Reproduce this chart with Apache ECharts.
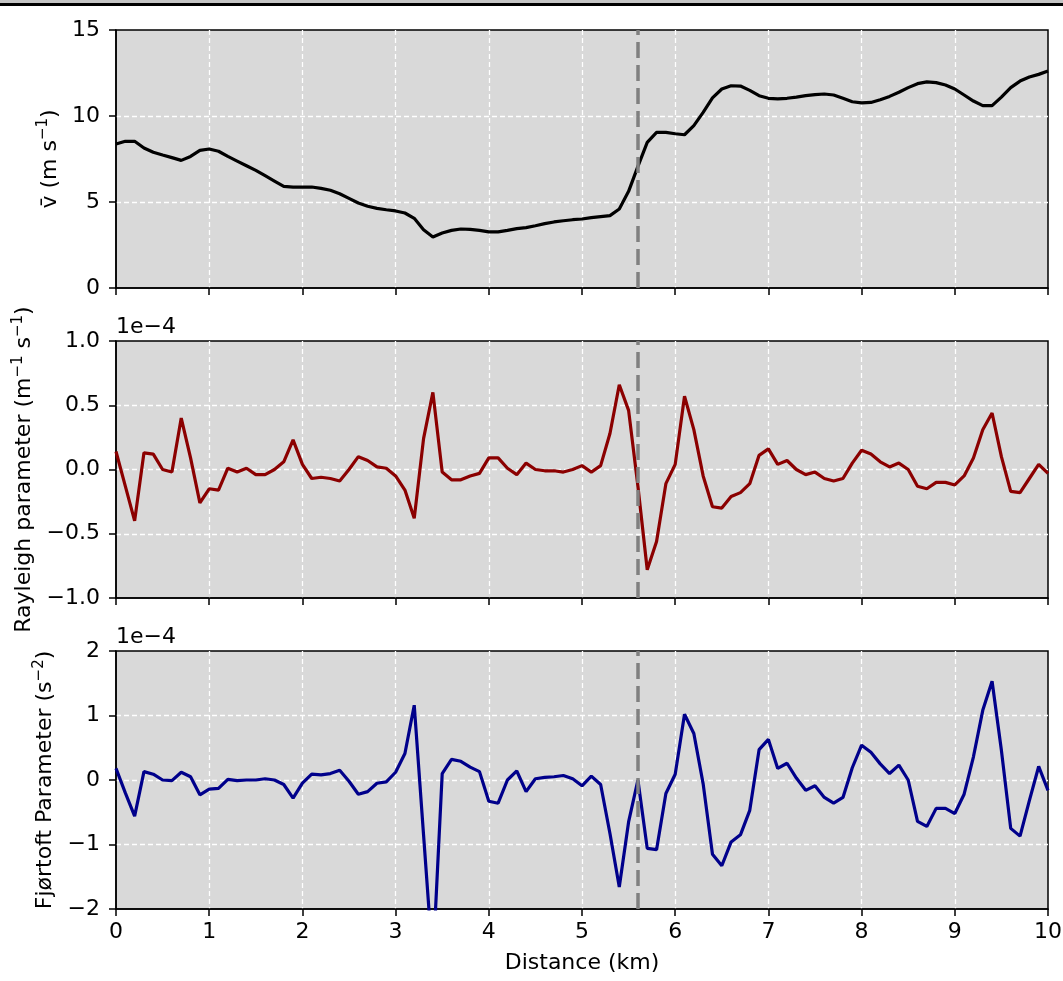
<!DOCTYPE html>
<html>
<head>
<meta charset="utf-8">
<script src="https://cdn.jsdelivr.net/npm/echarts@6/dist/echarts.min.js"></script>
<style>
  html, body { margin: 0; padding: 0; background: #fff; }
  #chart { width: 1063px; height: 981px; }
</style>
</head>
<body>
<div id="chart"></div>
<script>
// distance along the transect (km)
const distance = [
    0.0, 0.1, 0.2, 0.3, 0.4, 0.5, 0.6, 0.7, 0.8, 0.9,
    1.0, 1.1, 1.2, 1.3, 1.4, 1.5, 1.6, 1.7, 1.8, 1.9,
    2.0, 2.1, 2.2, 2.3, 2.4, 2.5, 2.6, 2.7, 2.8, 2.9,
    3.0, 3.1, 3.2, 3.3, 3.4, 3.5, 3.6, 3.7, 3.8, 3.9,
    4.0, 4.1, 4.2, 4.3, 4.4, 4.5, 4.6, 4.7, 4.8, 4.9,
    5.0, 5.1, 5.2, 5.3, 5.4, 5.5, 5.6, 5.7, 5.8, 5.9,
    6.0, 6.1, 6.2, 6.3, 6.4, 6.5, 6.6, 6.7, 6.8, 6.9,
    7.0, 7.1, 7.2, 7.3, 7.4, 7.5, 7.6, 7.7, 7.8, 7.9,
    8.0, 8.1, 8.2, 8.3, 8.4, 8.5, 8.6, 8.7, 8.8, 8.9,
    9.0, 9.1, 9.2, 9.3, 9.4, 9.5, 9.6, 9.7, 9.8, 9.9,
    10.0
];
// mean wind speed (m/s)
const velocity = [
    8.37, 8.53, 8.53, 8.14, 7.89, 7.73, 7.58, 7.42, 7.65, 8.0,
    8.08, 7.95, 7.65, 7.38, 7.11, 6.84, 6.53, 6.22, 5.91, 5.87,
    5.87, 5.87, 5.79, 5.68, 5.48, 5.21, 4.94, 4.75, 4.63, 4.55,
    4.48, 4.36, 4.05, 3.39, 2.97, 3.2, 3.35, 3.43, 3.41, 3.35,
    3.26, 3.26, 3.35, 3.45, 3.51, 3.62, 3.74, 3.84, 3.91, 3.97,
    4.01, 4.09, 4.15, 4.21, 4.59, 5.62, 7.07, 8.47, 9.05, 9.05,
    8.97, 8.91, 9.44, 10.21, 11.05, 11.57, 11.76, 11.74, 11.49, 11.18,
    11.03, 11.0, 11.03, 11.1, 11.18, 11.24, 11.28, 11.22, 11.03, 10.83,
    10.76, 10.79, 10.95, 11.14, 11.38, 11.65, 11.88, 11.98, 11.94, 11.8,
    11.57, 11.22, 10.87, 10.6, 10.6, 11.1, 11.65, 12.03, 12.27, 12.42,
    12.62
];
// Rayleigh parameter, in units of 1e-4
const rayleigh = [
    0.14, -0.13, -0.40, 0.13, 0.12, 0.0, -0.02, 0.40, 0.09, -0.26,
    -0.15, -0.16, 0.01, -0.02, 0.01, -0.04, -0.04, 0.0, 0.06, 0.23,
    0.04, -0.07, -0.06, -0.07, -0.09, 0.0, 0.10, 0.07, 0.02, 0.01,
    -0.05, -0.16, -0.38, 0.24, 0.60, -0.02, -0.08, -0.08, -0.05, -0.03,
    0.09, 0.09, 0.01, -0.04, 0.05, 0.0, -0.01, -0.01, -0.02, 0.0,
    0.03, -0.02, 0.03, 0.28, 0.66, 0.46, -0.13, -0.78, -0.56, -0.11,
    0.04, 0.57, 0.31, -0.05, -0.29, -0.30, -0.21, -0.18, -0.11, 0.11,
    0.16, 0.04, 0.07, 0.0, -0.04, -0.02, -0.07, -0.09, -0.07, 0.05,
    0.15, 0.12, 0.06, 0.02, 0.05, 0.0, -0.13, -0.15, -0.10, -0.10,
    -0.12, -0.05, 0.09, 0.31, 0.44, 0.10, -0.17, -0.18, -0.07, 0.04,
    -0.03
];
// Fjortoft parameter, in units of 1e-4
const fjortoft = [
    0.18, -0.20, -0.56, 0.13, 0.09, 0.0, -0.01, 0.12, 0.05, -0.23,
    -0.14, -0.13, 0.01, -0.01, 0.0, 0.0, 0.02, 0.0, -0.07, -0.28,
    -0.05, 0.09, 0.08, 0.10, 0.15, -0.02, -0.22, -0.18, -0.05, -0.03,
    0.12, 0.41, 1.16, -0.85, -2.85, 0.10, 0.32, 0.29, 0.20, 0.13,
    -0.33, -0.36, 0.0, 0.14, -0.18, 0.02, 0.04, 0.05, 0.07, 0.02,
    -0.09, 0.06, -0.07, -0.83, -1.66, -0.65, 0.0, -1.06, -1.08, -0.21,
    0.09, 1.02, 0.72, -0.06, -1.15, -1.33, -0.96, -0.85, -0.47, 0.47,
    0.63, 0.18, 0.26, 0.03, -0.16, -0.09, -0.27, -0.36, -0.27, 0.19,
    0.54, 0.43, 0.25, 0.10, 0.23, 0.0, -0.64, -0.72, -0.44, -0.44,
    -0.52, -0.22, 0.36, 1.08, 1.53, 0.46, -0.75, -0.87, -0.32, 0.21,
    -0.16
];
const markerDistance = 5.6;

const font = 'DejaVu Sans';
const fontSize = 22;

function pairs(ys) {
    return distance.map(function (x, i) { return [x, ys[i]]; });
}
function minus(s) {
    return String(s).replace('-', '\u2212');
}

// rich text styles so the units get real superscripts
const nameRich = {
    t: { fontFamily: font, fontSize: fontSize, color: '#000', lineHeight: 25, verticalAlign: 'bottom' },
    sup: { fontFamily: font, fontSize: 15, color: '#000', lineHeight: 25, verticalAlign: 'top' }
};

function makeX(gridIndex, showLabels) {
    return {
        type: 'value', gridIndex: gridIndex, min: 0, max: 10, interval: 1,
        name: showLabels ? 'Distance (km)' : '',
        nameLocation: 'middle', nameGap: 43,
        nameTextStyle: { fontFamily: font, fontSize: fontSize, color: '#000' },
        axisLine: { show: true, onZero: false, lineStyle: { color: '#000', width: 1.5 } },
        axisTick: { show: true, length: 7, lineStyle: { color: '#000', width: 1.5 } },
        axisLabel: { show: showLabels, margin: 12, fontFamily: font, fontSize: fontSize, color: '#000' },
        splitLine: {
            show: true, showMinLine: false, showMaxLine: false,
            lineStyle: { color: '#fff', type: [5, 3], width: 1.3 }
        }
    };
}
function makeY(gridIndex, min, max, interval, name, gap, fmt) {
    return {
        type: 'value', gridIndex: gridIndex, min: min, max: max, interval: interval,
        name: name, nameLocation: 'middle', nameGap: gap,
        nameTextStyle: { fontFamily: font, fontSize: fontSize, color: '#000', rich: nameRich },
        axisLine: { show: true, onZero: false, lineStyle: { color: '#000', width: 1.5 } },
        axisTick: { show: true, length: 7, lineStyle: { color: '#000', width: 1.5 } },
        axisLabel: { margin: 16, fontFamily: font, fontSize: fontSize, color: '#000', formatter: fmt },
        splitLine: {
            show: true, showMinLine: false, showMaxLine: false,
            lineStyle: { color: '#fff', type: [5, 3], width: 1.3 }
        }
    };
}
function makeLine(axisIndex, ys, color) {
    return {
        type: 'line', xAxisIndex: axisIndex, yAxisIndex: axisIndex,
        data: pairs(ys), showSymbol: false, clip: true,
        lineStyle: { color: color, width: 3.2 },
        markLine: {
            silent: true, symbol: 'none', label: { show: false },
            lineStyle: { color: '#808080', type: [16, 7], width: 3.5 },
            data: [{ xAxis: markerDistance }]
        }
    };
}

const grids = [
    { left: 116, right: 15, top: 30, height: 258 },
    { left: 116, right: 15, top: 341, height: 257 },
    { left: 116, right: 15, top: 651, height: 258 }
].map(function (g) {
    return Object.assign(g, {
        show: true, backgroundColor: '#d9d9d9', borderColor: '#000', borderWidth: 1.5,
        containLabel: false, outerBoundsMode: 'none'
    });
});

const option = {
    animation: false,
    backgroundColor: '#fff',
    grid: grids,
    xAxis: [makeX(0, false), makeX(1, false), makeX(2, true)],
    yAxis: [
        makeY(0, 0, 15, 5, '{t|v\u0304 (m s}{sup|\u22121}{t|)}', 52,
            function (v) { return minus(v); }),
        makeY(1, -1, 1, 0.5, '{t|Rayleigh parameter (m}{sup|\u22121}{t| s}{sup|\u22121}{t|)}', 79,
            function (v) { return minus(v.toFixed(1)); }),
        makeY(2, -2, 2, 1, '{t|Fj\u00F8rtoft Parameter (s}{sup|\u22122}{t|)}', 59,
            function (v) { return minus(v); })
    ],
    series: [
        makeLine(0, velocity, '#000000'),
        makeLine(1, rayleigh, '#8b0000'),
        makeLine(2, fjortoft, '#00008b')
    ],
    graphic: [
        { type: 'rect', shape: { x: 0, y: 0, width: 1063, height: 3 }, style: { fill: '#c4c4c4' } },
        { type: 'rect', shape: { x: 0, y: 3, width: 1063, height: 3 }, style: { fill: '#000' } },
        { type: 'text', x: 116, y: 316, style: { text: '1e\u22124', font: fontSize + 'px "' + font + '"', fill: '#000', verticalAlign: 'top' } },
        { type: 'text', x: 116, y: 626, style: { text: '1e\u22124', font: fontSize + 'px "' + font + '"', fill: '#000', verticalAlign: 'top' } }
    ]
};

const chart = echarts.init(document.getElementById('chart'));
chart.setOption(option);
window.addEventListener('resize', function () { chart.resize(); });
</script>
</body>
</html>
